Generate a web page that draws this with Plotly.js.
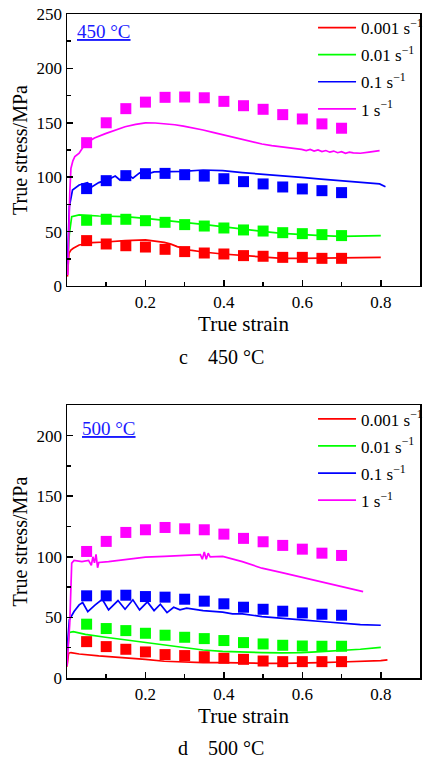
<!DOCTYPE html>
<html>
<head>
<meta charset="utf-8">
<script src="https://cdn.plot.ly/plotly-3.0.1.min.js"></script>
<style>html,body{margin:0;padding:0;background:#fff;}#chart{width:432px;height:762px;}</style>
</head>
<body>
<div id="chart"></div>
<script>
// ---------- legend / category labels ----------
const rateLabels = ["0.001 s<sup>−1</sup>", "0.01 s<sup>−1</sup>", "0.1 s<sup>−1</sup>", "1 s<sup>−1</sup>"];
const rateColors = ["#ff0000", "#00ff00", "#0000ff", "#ff00ff"];

// ---------- predicted (square) points, shared strain ----------
const strainPts = [0.05,0.10,0.15,0.20,0.25,0.30,0.35,0.40,0.45,0.50,0.55,0.60,0.65,0.70];

// 450 °C predicted
const pred450_0001 = [41.7,38.6,37.0,35.8,33.7,31.6,30.3,29.4,27.9,27.3,26.3,26.3,25.4,25.4];
const pred450_001  = [60.4,61.3,61.3,60.0,58.5,56.4,55.1,53.3,51.5,50.5,49.0,48.1,47.2,46.3];
const pred450_01   = [89.5,96.8,101.4,103.2,103.5,102.3,101.0,98.6,95.9,93.8,91.0,89.2,87.6,85.8];
const pred450_1    = [131.7,150.0,163.0,169.0,173.4,173.7,173.0,169.7,165.7,162.4,157.5,153.5,149.0,145.0];

// 500 °C predicted
const pred500_0001 = [30.0,25.9,23.7,21.5,19.3,18.5,17.6,16.3,15.4,14.0,13.5,13.5,13.5,13.5];
const pred500_001  = [44.4,40.8,39.1,36.9,35.3,33.6,32.5,30.9,29.2,28.1,27.0,26.4,26.2,26.2];
const pred500_01   = [67.8,67.8,68.3,67.2,66.7,65.0,63.4,61.2,58.4,56.7,55.1,53.7,52.6,51.8];
const pred500_1    = [104.4,112.7,120.1,122.3,124.2,123.1,122.3,118.7,115.2,112.4,109.4,106.3,103.0,101.1];

// ---------- experimental curves, 450 °C ----------
const x450_0001 = [0.001,0.005,0.010,0.016,0.031,0.064,0.098,0.148,0.200,0.225,0.248,0.265,0.281,0.314,0.347,0.397,0.447,0.497,0.548,0.598,0.648,0.698,0.748,0.800];
const y450_0001 = [8.6,30.0,33.0,34.6,37.7,39.8,40.4,41.7,42.3,41.5,40.1,38.5,36.2,33.0,31.2,29.4,27.9,26.3,25.4,25.4,25.4,25.4,26.0,26.3];
const x450_001  = [0.001,0.006,0.012,0.031,0.081,0.148,0.200,0.248,0.297,0.347,0.397,0.447,0.497,0.548,0.598,0.648,0.698,0.748,0.800];
const y450_001  = [15,48,63.7,65.3,64.3,63.7,62.2,60.7,58.5,56.7,54.5,52.0,50.2,48.4,47.2,46.3,45.6,46.0,46.3];
const x450_01   = [0.001,0.006,0.014,0.031,0.052,0.064,0.081,0.106,0.123,0.135,0.152,0.168,0.185,0.202,0.222,0.247,0.297,0.347,0.397,0.447,0.497,0.548,0.598,0.648,0.698,0.748,0.797,0.812];
const y450_01   = [20,73,88.2,92.8,95.0,91.3,95.0,98.0,101.0,97.4,103.0,99.0,104.0,102.6,104.8,104.8,105.4,106.6,106.0,104.2,103.0,101.7,99.9,98.3,96.8,95.6,93.8,91.3];
const x450_1    = [0.002,0.004,0.007,0.010,0.015,0.020,0.031,0.047,0.070,0.098,0.125,0.148,0.175,0.200,0.225,0.248,0.275,0.297,0.320,0.347,0.372,0.397,0.422,0.447,0.472,0.497,0.522,0.548,0.573,0.598,0.610,0.620,0.630,0.640,0.650,0.660,0.670,0.680,0.690,0.700,0.710,0.720,0.730,0.748,0.770,0.797];
const y450_1    = [10,45,85,108,115,119,122,131,136,140,143.5,146.4,148.5,150,149.8,149.2,148.2,147,145.5,143.4,141.2,139,137,134.8,132.6,130.5,129,128,126.5,125.5,124.5,125.5,124,125,123.5,124.5,123,124,122.5,123.5,122,123,122.3,122,123,124.4];

// ---------- experimental curves, 500 °C ----------
const x500_0001 = [0.000,0.004,0.010,0.031,0.081,0.148,0.200,0.248,0.297,0.347,0.397,0.447,0.497,0.548,0.598,0.648,0.698,0.748,0.800,0.817];
const y500_0001 = [9.4,20.4,21.0,19.8,18.2,16.8,15.4,13.8,13.2,12.7,12.7,12.1,12.1,12.1,12.1,12.7,13.2,13.5,14.3,14.9];
const x500_001  = [0.000,0.006,0.016,0.047,0.098,0.148,0.200,0.248,0.297,0.347,0.397,0.447,0.497,0.548,0.598,0.648,0.698,0.748,0.800];
const y500_001  = [17.6,37.5,38.3,36.0,33.6,31.4,29.5,27.3,24.8,23.1,22.0,21.2,20.9,20.7,20.9,21.8,22.6,23.7,25.3];
const x500_01   = [0.000,0.006,0.018,0.031,0.040,0.053,0.072,0.090,0.106,0.130,0.148,0.168,0.185,0.205,0.222,0.238,0.255,0.272,0.288,0.305,0.347,0.397,0.422,0.447,0.497,0.548,0.598,0.648,0.698,0.748,0.800];
const y500_01   = [23,48,54.8,60.3,62.3,54.8,60.3,65.0,56.2,63.9,56.7,64.5,56.2,62.8,55.6,60.9,54.0,58.4,56.2,57.6,55.6,54.3,52.9,52.9,50.7,49.0,47.9,46.6,45.2,44.1,43.5];
const x500_1    = [0.000,0.007,0.012,0.018,0.038,0.055,0.062,0.066,0.070,0.074,0.078,0.081,0.106,0.148,0.200,0.248,0.297,0.340,0.345,0.350,0.355,0.360,0.365,0.397,0.447,0.497,0.548,0.598,0.648,0.698,0.748,0.755];
const y500_1    = [10,45,94.8,97,96,97,93,100,95,102,91,95.3,96,97.5,99.7,100.3,101.1,101.7,98,104,98,103,100,100.3,96,90.6,87,83.2,79.6,75.5,72.2,71.3];

const curves450 = [[x450_0001,y450_0001],[x450_001,y450_001],[x450_01,y450_01],[x450_1,y450_1]];
const curves500 = [[x500_0001,y500_0001],[x500_001,y500_001],[x500_01,y500_01],[x500_1,y500_1]];
const preds450 = [pred450_0001,pred450_001,pred450_01,pred450_1];
const preds500 = [pred500_0001,pred500_001,pred500_01,pred500_1];

const traces = [];
function addPanel(curves, preds, xa, ya, legendName, grpPrefix) {
  preds.forEach((p, i) => {
    traces.push({x: strainPts, y: p, xaxis: xa, yaxis: ya, type: "scatter", mode: "markers",
      marker: {symbol: "square", size: 11, color: rateColors[i]}, showlegend: false, hoverinfo: "x+y"});
  });
  curves.forEach((c, i) => {
    traces.push({x: c[0], y: c[1], xaxis: xa, yaxis: ya, type: "scatter", mode: "lines",
      line: {color: rateColors[i], width: 1.7}, name: rateLabels[i], legend: legendName,
      legendgroup: grpPrefix + i});
  });
}
addPanel(curves450, preds450, "x", "y", "legend", "a");
addPanel(curves500, preds500, "x2", "y2", "legend2", "b");

const serif = "Liberation Serif, Times New Roman, serif";
function xax(anchor) {
  return {anchor: anchor, domain: [0, 1], range: [0, 0.9],
    ticks: "inside", ticklen: 6, tickwidth: 1.5, tickcolor: "#000",
    minor: {dtick: 0.1, tick0: 0, ticks: "inside", ticklen: 4, tickwidth: 1.5, tickcolor: "#000"},
    showline: true, linecolor: "#000", linewidth: 1.5, mirror: true, showgrid: false, zeroline: false,
    tickfont: {family: serif, size: 17, color: "#000"},
    tickvals: [0.2, 0.4, 0.6, 0.8], ticktext: ["0.2", "0.4", "0.6", "0.8"],
    title: {text: "True strain", font: {family: serif, size: 21, color: "#000"}, standoff: 1}};
}
function yax(anchor, dom, top) {
  return {anchor: anchor, domain: dom, range: [0, top], dtick: 50, tick0: 0,
    ticks: "inside", ticklen: 6, tickwidth: 1.5, tickcolor: "#000",
    minor: {dtick: 25, tick0: 0, ticks: "inside", ticklen: 4, tickwidth: 1.5, tickcolor: "#000"},
    showline: true, linecolor: "#000", linewidth: 1.5, mirror: true, showgrid: false, zeroline: false,
    tickfont: {family: serif, size: 17, color: "#000"},
    title: {text: "True stress/MPa", font: {family: serif, size: 20, color: "#000"}, standoff: 3}};
}
const legendCommon = {xref: "paper", yref: "paper", xanchor: "left", yanchor: "top",
  bgcolor: "rgba(0,0,0,0)", borderwidth: 0, itemwidth: 38, tracegroupgap: 2,
  font: {family: serif, size: 17, color: "#000"}, traceorder: "grouped"};

const layout = {
  width: 432, height: 762,
  margin: {l: 67, r: 4, t: 14, b: 84},
  paper_bgcolor: "#fff", plot_bgcolor: "#fff",
  showlegend: true,
  xaxis: xax("y"),
  yaxis: yax("x", [0.5904, 1], 250),
  xaxis2: xax("y2"),
  yaxis2: yax("x2", [0, 0.4107], 225),
  legend: Object.assign({x: 0.697, y: 1.006}, legendCommon),
  legend2: Object.assign({x: 0.697, y: 0.4167}, legendCommon),
  annotations: [
    {xref: "x", yref: "y", x: 0.021, y: 233.5, xanchor: "left", yanchor: "middle", showarrow: false,
     text: "<u>450 °C</u>", font: {family: serif, size: 19, color: "#1a1aff"}},
    {xref: "x2", yref: "y2", x: 0.032, y: 206, xanchor: "left", yanchor: "middle", showarrow: false,
     text: "<u>500 °C</u>", font: {family: serif, size: 19, color: "#1a1aff"}},
    {xref: "paper", yref: "paper", x: 0.437, y: 0.4834, xanchor: "center", yanchor: "middle", showarrow: false,
     text: "c    450 °C", font: {family: serif, size: 20, color: "#000"}},
    {xref: "paper", yref: "paper", x: 0.437, y: -0.1054, xanchor: "center", yanchor: "middle", showarrow: false,
     text: "d    500 °C", font: {family: serif, size: 20, color: "#000"}}
  ]
};

Plotly.newPlot("chart", traces, layout, {staticPlot: true, displayModeBar: false});
</script>
</body>
</html>
